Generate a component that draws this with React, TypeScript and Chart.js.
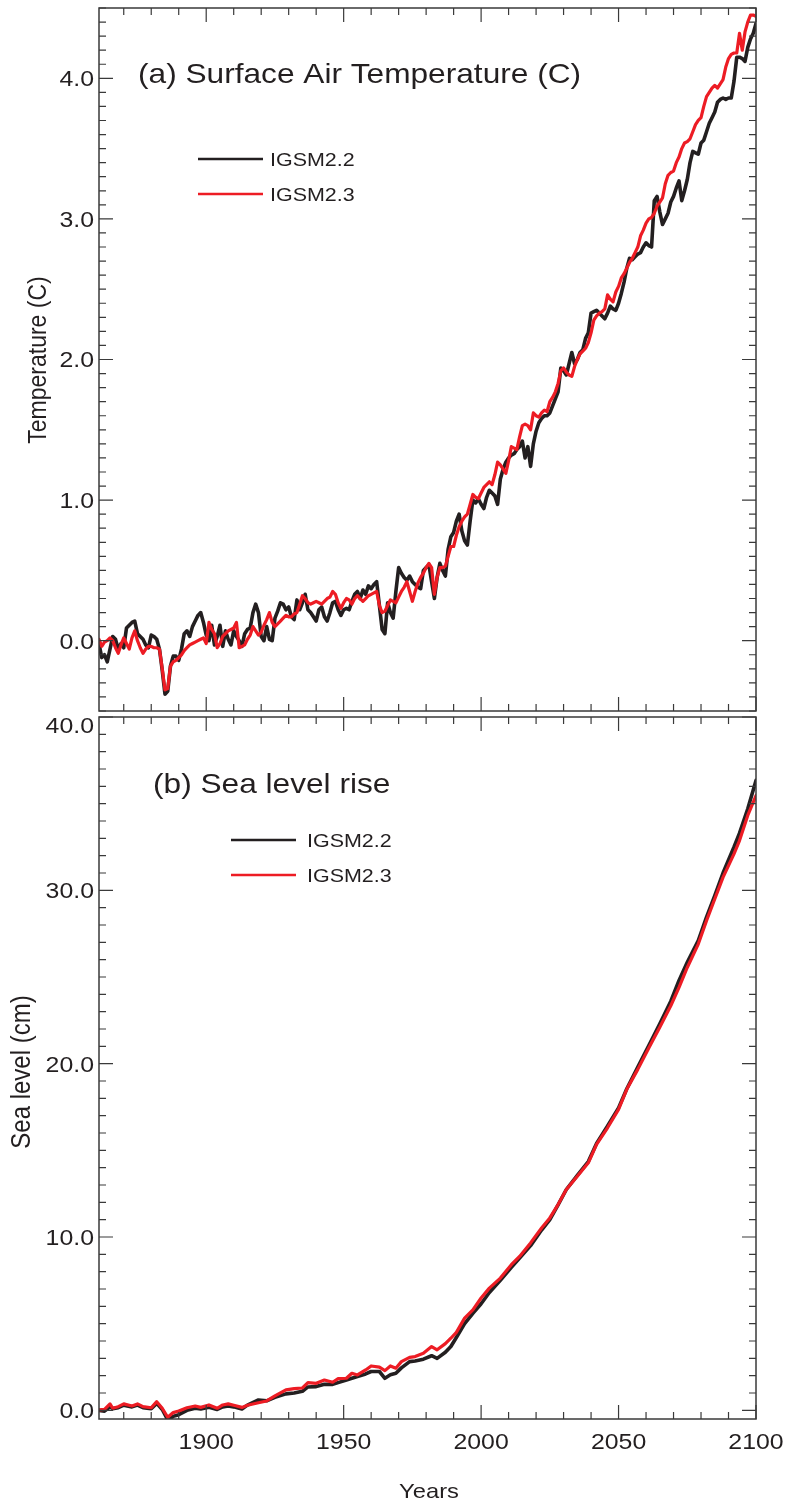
import React, { useEffect, useRef } from 'react';
import { Chart, registerables } from 'chart.js';

Chart.register(...registerables);

// ---------------- DATA ----------------
const seriesNames = ['IGSM2.2', 'IGSM2.3'];
const seriesColors = ['#231f20', '#ed1c24'];

// Annual surface air temperature change (C), one value per year starting in tempStartYear
const tempStartYear = 1861;
const tempIGSM22 = [
  -0.02, -0.12, -0.10, -0.15, -0.06, 0.03, 0.01, -0.06, -0.02, -0.05,
  0.09, 0.11, 0.13, 0.14, 0.05, 0.03, 0.01, -0.03, -0.05, 0.04,
  0.03, 0.01, -0.06, -0.21, -0.38, -0.36, -0.18, -0.11, -0.11, -0.14,
  -0.06, 0.05, 0.07, 0.03, 0.10, 0.14, 0.18, 0.20, 0.13, 0.04,
  0.00, 0.11, -0.03, 0.03, 0.11, -0.04, 0.07, 0.01, -0.03, 0.07,
  0.03, 0.00, -0.04, 0.05, 0.08, 0.09, 0.20, 0.26, 0.20, 0.03,
  0.00, 0.10, 0.01, 0.00, 0.16, 0.21, 0.27, 0.26, 0.22, 0.24,
  0.17, 0.15, 0.29, 0.22, 0.27, 0.33, 0.22, 0.20, 0.17, 0.14,
  0.22, 0.24, 0.17, 0.14, 0.20, 0.27, 0.28, 0.22, 0.18, 0.22,
  0.23, 0.22, 0.28, 0.33, 0.35, 0.30, 0.36, 0.33, 0.39, 0.37,
  0.40, 0.42, 0.25, 0.08, 0.05, 0.27, 0.20, 0.16, 0.35, 0.52,
  0.48, 0.45, 0.43, 0.46, 0.42, 0.40, 0.38, 0.37, 0.50, 0.52,
  0.54, 0.42, 0.30, 0.45, 0.55, 0.50, 0.46, 0.65, 0.74, 0.77,
  0.85, 0.90, 0.78, 0.71, 0.68, 0.85, 1.00, 0.98, 1.01, 0.97,
  0.94, 1.02, 1.07, 1.05, 1.03, 0.97, 1.15, 1.22, 1.27, 1.30,
  1.32, 1.33, 1.36, 1.38, 1.42, 1.30, 1.38, 1.24, 1.40, 1.49,
  1.55, 1.58, 1.60, 1.60, 1.62, 1.67, 1.72, 1.77, 1.94, 1.92,
  1.89, 1.97, 2.05, 1.97, 2.00, 2.05, 2.07, 2.15, 2.19, 2.33,
  2.34, 2.35, 2.33, 2.31, 2.29, 2.33, 2.38, 2.36, 2.35, 2.40,
  2.47, 2.55, 2.65, 2.72, 2.71, 2.73, 2.75, 2.76, 2.80, 2.83,
  2.81, 2.80, 3.13, 3.16, 3.05, 2.96, 3.00, 3.04, 3.12, 3.16,
  3.22, 3.27, 3.13, 3.20, 3.28, 3.40, 3.48, 3.47, 3.46, 3.54,
  3.56, 3.62, 3.68, 3.72, 3.76, 3.83, 3.85, 3.86, 3.85, 3.86,
  3.86, 3.98, 4.15, 4.15, 4.14, 4.12, 4.22, 4.28, 4.32, 4.39,
];
const tempIGSM23 = [
  0.01, -0.04, -0.01, 0.00, 0.02, 0.00, -0.05, -0.09, -0.03, 0.02,
  -0.02, -0.06, 0.02, 0.07, 0.00, -0.05, -0.09, -0.06, -0.04, -0.04,
  -0.05, -0.05, -0.06, -0.20, -0.35, -0.34, -0.18, -0.15, -0.14, -0.12,
  -0.10, -0.07, -0.05, -0.03, -0.02, -0.01, 0.00, 0.01, 0.02, -0.02,
  0.13, 0.08, 0.05, -0.05, -0.02, 0.03, 0.05, 0.07, 0.08, 0.09,
  0.13, -0.05, -0.04, -0.03, 0.01, 0.04, 0.10, 0.07, 0.04, 0.06,
  0.11, 0.15, 0.20, 0.13, 0.10, 0.12, 0.14, 0.16, 0.18, 0.17,
  0.17, 0.19, 0.20, 0.26, 0.32, 0.30, 0.27, 0.26, 0.27, 0.28,
  0.27, 0.26, 0.28, 0.30, 0.31, 0.35, 0.33, 0.27, 0.23, 0.27,
  0.30, 0.29, 0.26, 0.30, 0.32, 0.30, 0.28, 0.30, 0.32, 0.33,
  0.34, 0.35, 0.25, 0.20, 0.21, 0.25, 0.29, 0.28, 0.27, 0.31,
  0.35, 0.38, 0.42, 0.35, 0.28, 0.35, 0.41, 0.45, 0.48, 0.52,
  0.55, 0.52, 0.33, 0.45, 0.52, 0.52, 0.53, 0.60, 0.67, 0.67,
  0.75, 0.81, 0.85, 0.88, 0.90, 0.97, 1.04, 1.02, 1.01, 1.05,
  1.09, 1.11, 1.13, 1.11, 1.18, 1.27, 1.25, 1.22, 1.19, 1.28,
  1.38, 1.37, 1.36, 1.45, 1.53, 1.54, 1.53, 1.50, 1.62, 1.60,
  1.59, 1.62, 1.64, 1.63, 1.70, 1.73, 1.77, 1.83, 1.92, 1.94,
  1.91, 1.89, 1.88, 1.95, 2.00, 2.04, 2.06, 2.08, 2.12, 2.19,
  2.28, 2.31, 2.33, 2.34, 2.36, 2.46, 2.43, 2.41, 2.48, 2.52,
  2.58, 2.61, 2.65, 2.69, 2.72, 2.76, 2.80, 2.88, 2.92, 2.97,
  3.00, 3.01, 3.04, 3.09, 3.12, 3.15, 3.25, 3.31, 3.33, 3.34,
  3.40, 3.44, 3.50, 3.54, 3.55, 3.57, 3.62, 3.67, 3.70, 3.72,
  3.80, 3.87, 3.90, 3.93, 3.95, 3.93, 3.96, 3.99, 4.08, 4.14,
  4.17, 4.18, 4.18, 4.32, 4.20, 4.33, 4.40, 4.45, 4.45, 4.44,
];

// Sea level rise (cm) read at these years
const seaYears = [
  1861, 1863, 1865, 1866, 1868, 1870, 1873, 1875, 1877, 1880,
  1882, 1884, 1886, 1888, 1890, 1893, 1896, 1898, 1901, 1904,
  1906, 1908, 1910, 1913, 1915, 1919, 1922, 1925, 1929, 1932,
  1935, 1937, 1940, 1943, 1946, 1948, 1951, 1953, 1955, 1958,
  1960, 1963, 1965, 1967, 1969, 1971, 1974, 1976, 1979, 1982,
  1984, 1987, 1989, 1991, 1994, 1997, 2000, 2003, 2007, 2011,
  2014, 2018, 2022, 2025, 2028, 2031, 2035, 2039, 2042, 2046,
  2050, 2053, 2057, 2061, 2065, 2069, 2072, 2075, 2079, 2082,
  2085, 2088, 2092, 2094, 2097, 2100,
];
const seaIGSM22 = [
  0.0, -0.05, 0.2, 0.1, 0.15, 0.3, 0.2, 0.3, 0.15, 0.1,
  0.4, 0.05, -0.55, -0.35, -0.25, 0.0, 0.12, 0.08, 0.18, 0.05,
  0.2, 0.25, 0.2, 0.08, 0.3, 0.6, 0.55, 0.75, 0.95, 1.0,
  1.1, 1.35, 1.37, 1.5, 1.5, 1.6, 1.75, 1.85, 1.95, 2.1,
  2.24, 2.24, 1.85, 2.05, 2.14, 2.45, 2.81, 2.85, 2.95, 3.15,
  3.0, 3.35, 3.68, 4.2, 5.0, 5.6, 6.15, 6.8, 7.5, 8.25,
  8.79, 9.5, 10.4, 11.0, 11.85, 12.74, 13.55, 14.35, 15.4, 16.4,
  17.45, 18.55, 19.8, 21.05, 22.3, 23.6, 24.8, 25.85, 27.1, 28.45,
  29.7, 31.0, 32.5, 33.3, 34.7, 36.34,
];
const seaIGSM23 = [
  0.02, 0.06, 0.37, 0.12, 0.21, 0.37, 0.25, 0.37, 0.21, 0.15,
  0.50, 0.12, -0.40, -0.13, -0.04, 0.15, 0.25, 0.17, 0.31, 0.12,
  0.31, 0.37, 0.29, 0.17, 0.29, 0.44, 0.54, 0.83, 1.18, 1.25,
  1.29, 1.60, 1.56, 1.75, 1.62, 1.83, 1.85, 2.14, 2.04, 2.33,
  2.56, 2.49, 2.29, 2.56, 2.43, 2.81, 3.06, 3.10, 3.29, 3.68,
  3.49, 3.85, 4.16, 4.50, 5.32, 5.80, 6.48, 7.05, 7.63, 8.40,
  8.88, 9.66, 10.52, 11.10, 11.87, 12.74, 13.51, 14.28, 15.34, 16.30,
  17.36, 18.52, 19.67, 20.90, 22.10, 23.34, 24.40, 25.55, 26.90, 28.25,
  29.50, 30.75, 32.10, 32.87, 34.32, 35.47,
];

const tempTickLabels = ['0.0', '1.0', '2.0', '3.0', '4.0'];
const seaTickLabels = ['0.0', '10.0', '20.0', '30.0', '40.0'];
const yearTickLabels = ['1900', '1950', '2000', '2050', '2100'];

// ---------------- STYLE ----------------
const FONT = "'Liberation Sans', Arial, Helvetica, sans-serif";
const TEXT = '#231f20';
const AXIS = '#3a3a3a';
const SX = 1.13; // horizontal stretch of the reference's lettering

function drawText(
  ctx: CanvasRenderingContext2D,
  text: string,
  x: number,
  yCenter: number,
  size: number,
  align: CanvasTextAlign,
  rotate = false
) {
  ctx.save();
  ctx.translate(x, yCenter);
  ctx.scale(SX, 1);
  if (rotate) ctx.rotate(-Math.PI / 2);
  ctx.font = `${size}px ${FONT}`;
  ctx.fillStyle = TEXT;
  ctx.textAlign = align;
  ctx.textBaseline = 'alphabetic';
  ctx.fillText(text, 0, 0.358 * size);
  ctx.restore();
}

type Decor = {
  yLabels: string[];
  yMinorStep: number;
  yMajorStep: number;
  title: string;
  titleX: number;
  titleY: number;
  legendX1: number;
  legendX2: number;
  legendTextX: number;
  legendY: number[];
  yTitle: string;
  yTitleX: number;
  yTitleY: number;
  yTitleSize: number;
  xLabelY?: number;
  xTitle?: string;
  xTitleX?: number;
  xTitleY?: number;
};

function makeDecor(id: string, d: Decor) {
  return {
    id,
    afterDraw(chart: any) {
      const ctx: CanvasRenderingContext2D = chart.ctx;
      const a = chart.chartArea;
      const xs = chart.scales.x;
      const ys = chart.scales.y;
      ctx.save();
      // ticks
      ctx.strokeStyle = AXIS;
      ctx.lineWidth = 1.2;
      ctx.beginPath();
      const kx0 = Math.ceil(xs.min / 10 - 1e-9);
      const kx1 = Math.floor(xs.max / 10 + 1e-9);
      for (let k = kx0; k <= kx1; k++) {
        const v = k * 10;
        const len = v % 50 === 0 ? 14 : 7;
        const px = xs.getPixelForValue(v);
        ctx.moveTo(px, a.bottom);
        ctx.lineTo(px, a.bottom - len);
        ctx.moveTo(px, a.top);
        ctx.lineTo(px, a.top + len);
      }
      const ky0 = Math.ceil(ys.min / d.yMinorStep - 1e-9);
      const ky1 = Math.floor(ys.max / d.yMinorStep + 1e-9);
      const ratio = Math.round(d.yMajorStep / d.yMinorStep);
      for (let k = ky0; k <= ky1; k++) {
        const v = k * d.yMinorStep;
        const len = k % ratio === 0 ? 14 : 7;
        const py = ys.getPixelForValue(v);
        ctx.moveTo(a.left, py);
        ctx.lineTo(a.left + len, py);
        ctx.moveTo(a.right, py);
        ctx.lineTo(a.right - len, py);
      }
      ctx.stroke();
      // frame
      ctx.lineWidth = 1.5;
      ctx.strokeRect(a.left, a.top, a.right - a.left, a.bottom - a.top);
      ctx.restore();

      // y tick labels
      d.yLabels.forEach((lab) => {
        const py = ys.getPixelForValue(parseFloat(lab));
        const yc = Math.max(py, a.top + 8);
        drawText(ctx, lab, a.left - 5, yc, 22, 'right');
      });
      // x tick labels
      if (d.xLabelY !== undefined) {
        yearTickLabels.forEach((lab) => {
          const px = xs.getPixelForValue(parseFloat(lab));
          drawText(ctx, lab, px, d.xLabelY as number, 22, 'center');
        });
      }
      if (d.xTitle) drawText(ctx, d.xTitle, d.xTitleX as number, d.xTitleY as number, 21, 'center');

      // panel title
      drawText(ctx, d.title, d.titleX, d.titleY, 28, 'left');

      // legend
      seriesNames.forEach((name, i) => {
        ctx.save();
        ctx.strokeStyle = seriesColors[i];
        ctx.lineWidth = 2.5;
        ctx.beginPath();
        ctx.moveTo(d.legendX1, d.legendY[i]);
        ctx.lineTo(d.legendX2, d.legendY[i]);
        ctx.stroke();
        ctx.restore();
        drawText(ctx, name, d.legendTextX, d.legendY[i], 19, 'left');
      });

      // y axis title
      drawText(ctx, d.yTitle, d.yTitleX, d.yTitleY, d.yTitleSize, 'center', true);
    },
  };
}

function buildDatasets(xs: number[], s22: number[], s23: number[]) {
  return [
    {
      label: seriesNames[1],
      data: xs.map((x, i) => ({ x, y: s23[i] })),
      borderColor: seriesColors[1],
      borderWidth: 3.2,
      pointRadius: 0,
      tension: 0,
      order: 0,
    },
    {
      label: seriesNames[0],
      data: xs.map((x, i) => ({ x, y: s22[i] })),
      borderColor: seriesColors[0],
      borderWidth: 3.6,
      pointRadius: 0,
      tension: 0,
      order: 1,
    },
  ];
}

function baseOptions(yMin: number, yMax: number, padding: any) {
  return {
    responsive: false,
    animation: false as const,
    devicePixelRatio: 1,
    layout: { padding },
    plugins: { legend: { display: false }, tooltip: { enabled: false }, title: { display: false } },
    events: [] as any[],
    scales: {
      x: { type: 'linear' as const, min: 1861, max: 2100, display: false },
      y: { type: 'linear' as const, min: yMin, max: yMax, display: false },
    },
    elements: { line: { borderJoinStyle: 'round' as const, borderCapStyle: 'round' as const } },
  };
}

export default function App() {
  const topRef = useRef<HTMLCanvasElement>(null);
  const botRef = useRef<HTMLCanvasElement>(null);

  useEffect(() => {
    const tempYears = tempIGSM22.map((_, i) => tempStartYear + i);
    const top = new Chart(topRef.current as HTMLCanvasElement, {
      type: 'line',
      data: { datasets: buildDatasets(tempYears, tempIGSM22, tempIGSM23) as any },
      options: baseOptions(-0.5, 4.5, { left: 99, right: 34, top: 8, bottom: 3 }) as any,
      plugins: [
        makeDecor('decorTop', {
          yLabels: tempTickLabels,
          yMinorStep: 0.1,
          yMajorStep: 1,
          title: '(a) Surface Air Temperature (C)',
          titleX: 138,
          titleY: 73,
          legendX1: 198,
          legendX2: 263,
          legendTextX: 270,
          legendY: [159, 194],
          yTitle: 'Temperature (C)',
          yTitleX: 37,
          yTitleY: 360,
          yTitleSize: 23,
        }),
      ],
    });
    const bot = new Chart(botRef.current as HTMLCanvasElement, {
      type: 'line',
      data: { datasets: buildDatasets(seaYears, seaIGSM22, seaIGSM23) as any },
      options: baseOptions(-0.5, 40, { left: 99, right: 34, top: 3, bottom: 86 }) as any,
      plugins: [
        makeDecor('decorBot', {
          yLabels: seaTickLabels,
          yMinorStep: 1,
          yMajorStep: 10,
          title: '(b) Sea level rise',
          titleX: 153,
          titleY: 69,
          legendX1: 231,
          legendX2: 296,
          legendTextX: 307,
          legendY: [126, 161],
          yTitle: 'Sea level (cm)',
          yTitleX: 20,
          yTitleY: 358,
          yTitleSize: 24,
          xLabelY: 727,
          xTitle: 'Years',
          xTitleX: 429,
          xTitleY: 776,
        }),
      ],
    });
    return () => {
      top.destroy();
      bot.destroy();
    };
  }, []);

  return (
    <div style={{ position: 'absolute', left: 0, top: 0, width: 790, height: 1505, background: '#ffffff' }}>
      <canvas
        ref={topRef}
        width={790}
        height={714}
        style={{ position: 'absolute', left: 0, top: 0, width: 790, height: 714 }}
      />
      <canvas
        ref={botRef}
        width={790}
        height={791}
        style={{ position: 'absolute', left: 0, top: 714, width: 790, height: 791 }}
      />
    </div>
  );
}
